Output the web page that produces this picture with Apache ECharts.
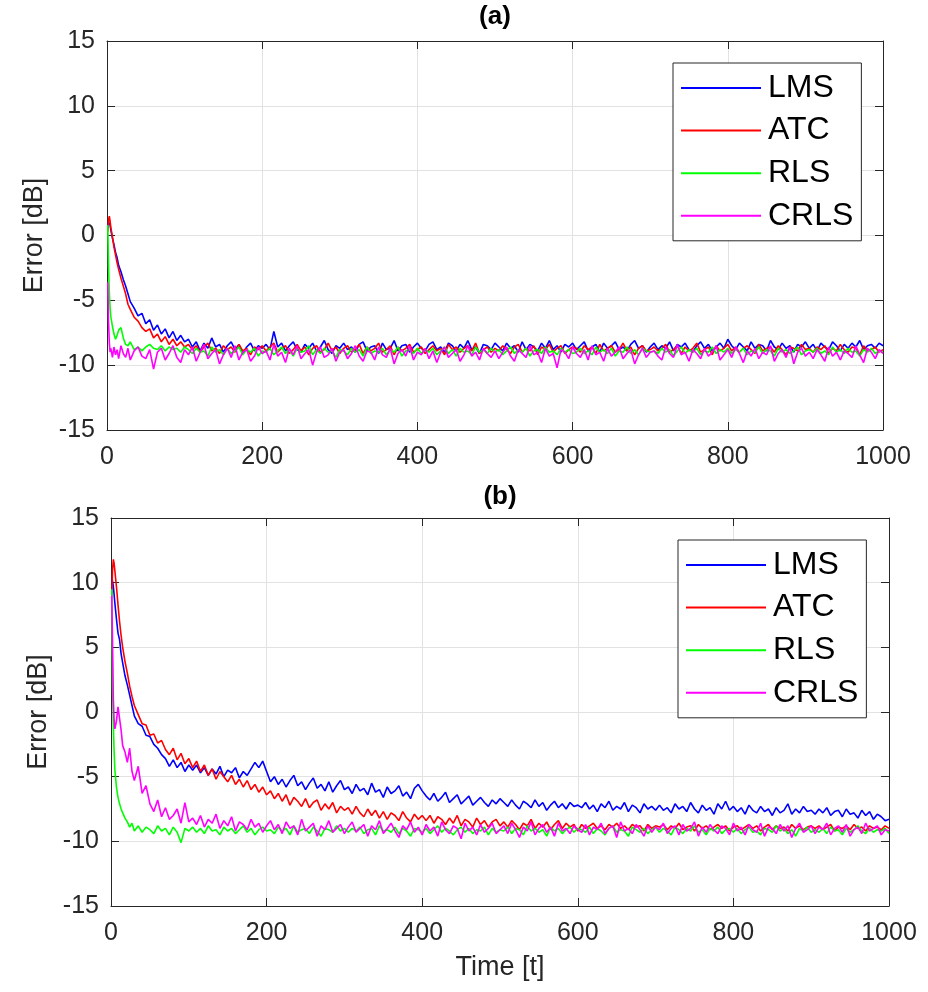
<!DOCTYPE html>
<html>
<head>
<meta charset="utf-8">
<script src="https://cdn.jsdelivr.net/npm/echarts@6/dist/echarts.min.js"></script>
<style>
html,body{margin:0;padding:0;background:#fff;}
#chart{width:928px;height:992px;}
</style>
</head>
<body>
<div id="chart"></div>
<script>
// ---- time samples ----
const time = [1,2,3,4,5,7,9,11,13,15,18,21,24,27,30,
  35,40,45,50,55,60,65,70,75,80,85,90,95,100,
  105,110,115,120,125,130,135,140,145,150,155,160,165,170,175,180,185,190,195,200,
  205,210,215,220,225,230,235,240,245,250,255,260,265,270,275,280,285,290,295,300,
  305,310,315,320,325,330,335,340,345,350,355,360,365,370,375,380,385,390,395,400,
  405,410,415,420,425,430,435,440,445,450,455,460,465,470,475,480,485,490,495,500,
  505,510,515,520,525,530,535,540,545,550,555,560,565,570,575,580,585,590,595,600,
  605,610,615,620,625,630,635,640,645,650,655,660,665,670,675,680,685,690,695,700,
  705,710,715,720,725,730,735,740,745,750,755,760,765,770,775,780,785,790,795,800,
  805,810,815,820,825,830,835,840,845,850,855,860,865,870,875,880,885,890,895,900,
  905,910,915,920,925,930,935,940,945,950,955,960,965,970,975,980,985,990,995,1000];

const seriesNames = ['LMS','ATC','RLS','CRLS'];
const xTicks = [0,200,400,600,800,1000];
const yTicks = [-15,-10,-5,0,5,10,15];

// ---- panel (a) ----
const lmsA = [0.6,1.0,1.1,0.8,0.4,-0.2,-0.7,-1.3,-1.7,-2.3,-2.8,-3.4,-3.9,-4.5,-5.1,
  -5.6,-6.2,-6.0,-6.8,-6.5,-7.3,-6.9,-7.6,-7.2,-7.9,-7.4,-8.1,-7.7,-8.2,
  -8.0,-8.6,-8.2,-8.9,-8.3,-8.7,-7.9,-8.6,-8.4,-9.0,-8.5,-8.2,-8.8,-8.4,-9.1,-8.6,-8.3,-8.9,-8.5,-8.7,
  -8.4,-8.8,-7.4,-8.6,-8.3,-8.9,-8.5,-8.2,-8.8,-9.0,-8.4,-8.7,-8.3,-8.9,-8.6,-8.1,-8.8,-9.1,-8.5,-8.7,
  -8.3,-8.8,-8.6,-9.0,-8.4,-8.2,-8.9,-8.6,-8.5,-9.1,-8.3,-8.8,-8.7,-8.1,-8.9,-8.5,-8.4,-9.0,-8.6,-8.3,
  -8.7,-8.9,-8.4,-8.2,-8.8,-8.6,-9.0,-8.3,-8.5,-8.9,-8.4,-8.7,-8.1,-8.8,-8.6,-9.1,-8.4,-8.5,-8.8,-8.3,
  -8.6,-8.9,-8.3,-8.7,-8.5,-9.0,-8.2,-8.8,-8.4,-8.6,-8.9,-8.3,-8.7,-8.1,-8.8,-8.5,-9.0,-8.4,-8.6,-8.3,
  -8.8,-8.5,-8.2,-8.9,-8.6,-8.4,-9.0,-8.3,-8.7,-8.5,-8.2,-8.8,-8.6,-8.9,-8.4,-8.1,-8.7,-8.5,-9.0,-8.6,
  -8.3,-8.8,-8.5,-8.7,-8.2,-8.9,-8.4,-8.6,-8.3,-8.8,-9.0,-8.5,-8.2,-8.7,-8.4,-8.9,-8.6,-8.3,-8.7,-8.0,
  -8.5,-8.8,-8.3,-8.6,-8.9,-8.2,-8.7,-8.4,-8.5,-8.9,-8.1,-8.6,-8.8,-8.3,-8.7,-8.5,-9.0,-8.4,-8.6,-8.2,
  -8.7,-8.4,-8.9,-8.3,-8.6,-8.8,-8.2,-8.5,-8.9,-8.4,-8.7,-8.3,-8.6,-8.1,-8.8,-8.5,-8.4,-8.7,-8.3,-8.5];

const atcA = [0.3,1.2,1.5,1.1,0.6,-0.1,-0.9,-1.5,-2.1,-2.6,-3.3,-3.9,-4.5,-5.3,-5.7,
  -6.3,-6.6,-7.1,-7.4,-7.2,-7.9,-7.6,-8.2,-7.8,-8.4,-8.0,-8.5,-8.2,-8.6,
  -8.4,-8.8,-8.5,-9.0,-8.6,-8.3,-8.9,-8.7,-9.1,-8.5,-8.8,-8.6,-9.0,-8.4,-8.9,-8.7,-9.2,-8.6,-8.8,-8.5,
  -8.9,-8.6,-8.3,-9.0,-8.7,-8.5,-9.1,-8.8,-8.4,-8.9,-8.6,-9.2,-8.7,-8.5,-9.0,-8.8,-8.3,-8.9,-8.6,-9.1,
  -8.7,-8.5,-9.0,-8.8,-8.4,-9.1,-8.6,-8.9,-8.7,-8.3,-9.0,-8.8,-8.5,-9.2,-8.6,-8.9,-8.7,-8.4,-9.0,-8.8,
  -8.6,-9.1,-8.8,-8.5,-8.9,-8.7,-9.2,-8.4,-8.8,-8.6,-9.0,-8.7,-8.5,-8.9,-8.3,-9.1,-8.8,-8.6,-9.0,-8.7,
  -8.9,-8.5,-8.8,-9.1,-8.6,-8.4,-9.0,-8.7,-8.9,-8.5,-9.2,-8.6,-8.8,-8.4,-9.0,-8.7,-8.5,-9.1,-8.8,-8.6,
  -8.7,-9.0,-8.5,-8.8,-8.6,-9.1,-8.4,-8.9,-8.7,-8.5,-9.0,-8.8,-8.3,-8.9,-8.6,-9.2,-8.7,-8.5,-8.9,-8.8,
  -8.6,-8.9,-8.7,-8.4,-9.0,-8.8,-8.5,-9.1,-8.6,-8.9,-8.7,-8.3,-9.0,-8.8,-8.6,-9.2,-8.5,-8.9,-8.7,-8.4,
  -8.9,-8.6,-9.0,-8.7,-8.5,-8.8,-9.1,-8.4,-8.9,-8.7,-8.6,-9.0,-8.5,-8.8,-9.2,-8.6,-8.7,-8.9,-8.4,-8.8,
  -8.7,-9.0,-8.6,-8.8,-8.5,-9.1,-8.7,-8.9,-8.4,-8.8,-9.0,-8.6,-8.7,-9.2,-8.5,-8.9,-8.8,-8.6,-9.0,-8.8];

const rlsA = [0.8,-2.4,-4.4,-5.6,-6.3,-7.0,-7.6,-8.0,-7.7,-7.3,-7.1,-7.9,-8.4,-8.5,-8.2,
  -8.8,-8.6,-8.9,-8.6,-8.4,-8.7,-8.8,-8.5,-8.9,-8.6,-8.8,-8.7,-9.0,-8.6,
  -8.8,-9.1,-8.7,-9.0,-8.9,-9.3,-8.6,-9.0,-8.8,-9.2,-8.7,-9.1,-8.9,-8.6,-9.2,-8.8,-9.0,-8.7,-9.3,-8.9,
  -9.0,-8.7,-9.2,-8.9,-8.6,-9.1,-8.8,-9.3,-8.7,-9.0,-8.9,-8.5,-9.2,-8.8,-9.1,-8.7,-9.0,-8.9,-9.4,-8.8,
  -8.9,-9.2,-8.7,-9.0,-8.8,-9.3,-8.6,-9.1,-8.9,-9.0,-8.7,-9.2,-8.8,-9.0,-8.6,-9.3,-8.9,-8.8,-9.1,-8.7,
  -9.1,-8.8,-9.0,-8.7,-9.2,-8.9,-8.6,-9.1,-8.8,-9.3,-8.7,-9.0,-8.9,-9.2,-8.6,-9.0,-8.8,-9.1,-8.7,-9.0,
  -8.8,-9.2,-8.9,-8.6,-9.1,-8.8,-9.0,-8.7,-9.3,-8.9,-8.8,-9.1,-8.6,-9.0,-8.9,-9.2,-8.7,-9.0,-8.8,-9.1,
  -9.0,-8.7,-9.1,-8.9,-9.2,-8.6,-9.0,-8.8,-9.1,-8.7,-9.3,-8.9,-9.0,-8.6,-9.1,-8.8,-9.2,-8.7,-8.9,-9.0,
  -8.9,-9.1,-8.7,-9.0,-8.8,-9.3,-8.9,-8.6,-9.1,-8.8,-9.0,-8.7,-9.2,-8.9,-9.0,-8.6,-9.1,-8.8,-9.0,-8.7,
  -9.1,-8.8,-9.0,-8.7,-9.2,-8.9,-9.0,-8.6,-9.1,-8.8,-8.9,-9.3,-8.7,-9.0,-8.8,-9.1,-8.9,-8.6,-9.2,-8.9,
  -8.8,-9.0,-8.7,-9.1,-8.9,-9.2,-8.6,-9.0,-8.8,-9.1,-8.7,-9.0,-8.9,-9.3,-8.8,-9.0,-8.7,-9.1,-8.9,-9.0];

const crlsA = [-3.6,-6.6,-8.3,-9.0,-8.7,-9.4,-8.6,-9.2,-8.8,-9.5,-8.5,-9.1,-9.4,-8.7,-9.6,
  -8.9,-8.6,-9.3,-9.5,-8.8,-10.3,-9.0,-8.7,-9.6,-9.1,-8.5,-9.4,-9.8,-8.8,
  -9.2,-8.6,-9.7,-9.0,-8.4,-9.5,-9.1,-8.8,-9.9,-9.2,-8.7,-9.4,-8.5,-9.6,-9.0,-8.8,-9.7,-9.3,-8.6,-9.1,
  -8.9,-9.6,-8.4,-9.3,-9.0,-9.8,-8.7,-9.2,-8.5,-9.5,-9.1,-8.8,-10.0,-9.0,-8.6,-9.4,-9.2,-8.7,-9.7,-9.0,
  -8.8,-9.5,-9.1,-8.5,-9.3,-9.7,-8.9,-9.0,-9.6,-8.6,-9.2,-9.4,-8.7,-9.9,-9.1,-8.8,-9.3,-8.5,-9.6,-9.0,
  -9.2,-8.7,-9.5,-8.9,-9.8,-9.0,-8.6,-9.4,-9.1,-8.8,-9.7,-9.2,-8.5,-9.3,-9.0,-9.6,-8.7,-9.1,-9.4,-8.9,
  -9.5,-9.0,-8.6,-9.3,-9.7,-8.8,-9.1,-9.4,-8.5,-9.2,-9.0,-9.8,-8.7,-9.3,-9.1,-10.2,-8.8,-9.0,-9.5,-8.6,
  -9.1,-9.4,-8.8,-9.6,-8.5,-9.2,-9.0,-9.7,-8.7,-9.3,-9.0,-8.6,-9.5,-9.1,-8.8,-9.9,-9.2,-8.7,-9.4,-9.0,
  -8.9,-9.3,-9.6,-8.6,-9.1,-9.4,-8.4,-9.2,-9.0,-9.7,-8.8,-9.1,-9.5,-8.7,-9.3,-9.0,-8.5,-9.6,-9.2,-8.8,
  -9.4,-8.6,-9.1,-9.8,-8.9,-9.3,-8.7,-9.5,-9.0,-9.2,-8.5,-9.7,-9.1,-8.8,-9.4,-8.6,-9.9,-9.0,-8.7,-9.3,
  -9.0,-9.5,-8.8,-9.2,-9.7,-8.6,-9.3,-9.0,-9.6,-8.9,-9.1,-9.4,-8.5,-9.2,-9.8,-8.7,-9.0,-9.5,-8.8,-9.1];

// ---- panel (b) ----
const lmsB = [10.4,10.1,9.7,9.1,8.4,7.2,6.1,5.6,4.5,3.8,2.8,2.1,1.3,0.5,-0.3,
  -0.9,-1.1,-1.8,-1.9,-2.5,-2.8,-3.3,-3.6,-4.2,-3.7,-4.3,-3.9,-4.6,-4.1,
  -4.5,-4.1,-4.7,-4.3,-4.9,-4.4,-4.8,-4.2,-5.0,-4.5,-4.7,-4.3,-5.1,-4.6,-4.9,-4.4,-3.9,-4.3,-3.8,-4.6,
  -5.4,-5.0,-5.6,-5.2,-5.8,-5.3,-4.9,-5.7,-5.4,-6.0,-5.5,-5.1,-5.9,-5.6,-6.1,-5.4,-6.2,-5.7,-5.3,-6.0,
  -5.8,-6.3,-5.6,-6.1,-5.9,-6.4,-5.5,-6.2,-6.0,-6.6,-5.8,-6.3,-6.1,-5.7,-6.5,-6.2,-6.7,-5.9,-5.6,-6.1,
  -6.5,-6.8,-6.3,-6.9,-6.6,-6.2,-7.0,-6.7,-6.4,-7.1,-6.8,-6.5,-7.2,-6.9,-6.6,-7.0,-7.3,-6.8,-7.1,-6.7,
  -7.0,-7.3,-6.8,-7.2,-7.5,-6.9,-7.1,-7.4,-6.8,-7.3,-7.0,-7.6,-7.2,-6.9,-7.4,-7.1,-7.5,-7.0,-7.3,-7.2,
  -7.4,-7.0,-7.5,-7.2,-7.7,-7.1,-7.4,-6.9,-7.6,-7.3,-7.5,-7.0,-7.7,-7.2,-7.4,-7.8,-7.1,-7.5,-7.3,-7.6,
  -7.2,-7.6,-7.4,-7.8,-7.1,-7.5,-7.3,-7.7,-7.0,-7.5,-7.8,-7.2,-7.6,-7.4,-7.9,-7.1,-7.5,-6.9,-7.6,-7.3,
  -7.7,-7.4,-7.9,-7.2,-7.6,-7.8,-7.3,-7.7,-7.5,-8.0,-7.4,-7.8,-7.6,-7.1,-7.9,-7.5,-7.8,-7.3,-7.7,-7.6,
  -7.9,-7.5,-7.8,-7.4,-8.0,-7.7,-7.6,-8.1,-7.5,-7.9,-7.8,-8.2,-7.6,-8.0,-7.7,-8.3,-7.9,-8.1,-8.4,-8.3];

const atcB = [9.0,11.0,11.8,11.5,10.9,9.7,8.3,7.0,5.9,5.0,3.9,3.0,2.0,1.2,0.5,
  -0.2,-0.9,-1.0,-1.8,-1.7,-2.4,-2.2,-2.9,-3.3,-2.8,-3.7,-3.2,-4.0,-3.6,
  -4.3,-3.8,-4.6,-4.1,-4.9,-4.4,-5.2,-4.6,-5.0,-5.4,-4.9,-5.6,-5.2,-5.8,-5.3,-6.0,-5.6,-6.2,-5.8,-6.4,
  -6.1,-6.7,-6.3,-6.9,-6.4,-7.2,-6.6,-6.9,-7.3,-6.7,-7.4,-7.0,-6.8,-7.6,-7.1,-7.5,-7.0,-7.8,-7.3,-7.6,
  -7.4,-7.9,-7.3,-7.8,-8.1,-7.5,-8.0,-7.6,-8.2,-7.7,-8.3,-7.8,-8.0,-8.4,-7.7,-8.2,-8.5,-7.9,-8.3,-8.0,
  -8.4,-8.0,-8.6,-8.1,-8.3,-8.7,-8.2,-8.6,-8.0,-8.8,-8.3,-8.5,-8.9,-8.2,-8.7,-8.4,-8.9,-8.5,-8.3,-8.8,
  -8.5,-8.9,-8.4,-8.7,-9.1,-8.6,-8.8,-8.3,-9.0,-8.6,-8.9,-8.5,-9.1,-8.7,-8.4,-9.0,-8.6,-8.9,-8.7,-9.2,
  -8.7,-9.0,-8.8,-8.6,-9.0,-8.8,-9.1,-8.7,-8.9,-8.6,-9.0,-8.8,-9.1,-8.7,-8.9,-8.8,-9.2,-8.7,-9.0,-8.8,
  -8.9,-8.7,-9.1,-8.8,-9.0,-8.6,-9.1,-8.9,-8.8,-9.2,-8.7,-9.0,-8.8,-9.1,-8.9,-8.7,-9.0,-8.8,-9.2,-8.9,
  -8.8,-9.1,-8.9,-8.7,-9.0,-8.8,-9.2,-8.9,-8.7,-9.1,-8.8,-9.0,-8.9,-9.2,-8.7,-9.0,-8.8,-9.1,-8.9,-8.8,
  -9.0,-8.8,-9.1,-8.9,-8.7,-9.2,-8.9,-9.0,-8.8,-9.1,-8.7,-9.0,-8.9,-9.2,-8.8,-9.0,-8.9,-9.1,-8.8,-9.0];

const rlsB = [9.5,2.0,-1.0,-3.0,-4.5,-5.8,-6.6,-7.1,-7.5,-7.8,-8.2,-8.5,-8.9,-8.6,-9.2,
  -8.8,-9.3,-8.9,-9.1,-9.4,-8.8,-9.2,-9.0,-9.5,-8.9,-9.3,-10.1,-9.0,-9.2,
  -8.9,-9.3,-9.0,-9.4,-8.8,-9.2,-9.1,-9.5,-8.9,-9.2,-9.0,-9.4,-9.1,-8.8,-9.3,-9.0,-9.5,-9.1,-8.9,-9.2,
  -9.1,-9.4,-8.9,-9.2,-9.0,-9.5,-8.8,-9.3,-9.1,-9.0,-9.4,-8.9,-9.2,-9.6,-9.0,-9.1,-9.3,-8.8,-9.2,-9.0,
  -9.3,-9.0,-9.2,-8.9,-9.4,-9.1,-9.0,-9.5,-8.8,-9.2,-9.1,-9.3,-8.9,-9.4,-9.0,-9.2,-9.6,-9.0,-9.1,-9.3,
  -9.0,-9.4,-9.1,-8.8,-9.3,-9.0,-9.2,-9.5,-9.1,-8.9,-9.3,-9.0,-9.4,-9.1,-9.2,-8.9,-9.5,-9.0,-9.3,-9.1,
  -9.2,-8.9,-9.4,-9.0,-9.1,-9.5,-8.8,-9.2,-9.0,-9.3,-9.1,-9.6,-8.9,-9.2,-9.0,-9.4,-9.1,-8.9,-9.3,-9.0,
  -9.1,-9.3,-8.9,-9.4,-9.0,-9.2,-9.5,-9.0,-8.8,-9.3,-9.1,-9.2,-9.6,-8.9,-9.1,-9.3,-9.0,-9.4,-9.1,-8.9,
  -9.3,-9.0,-9.2,-9.5,-8.9,-9.1,-9.4,-9.0,-9.2,-8.8,-9.3,-9.1,-9.5,-9.0,-9.2,-8.9,-9.4,-9.1,-9.0,-9.3,
  -9.0,-9.4,-9.1,-8.9,-9.3,-9.2,-9.5,-9.0,-9.1,-9.3,-8.8,-9.2,-9.0,-9.4,-9.1,-9.6,-9.0,-9.2,-8.9,-9.3,
  -9.1,-9.3,-9.0,-9.4,-8.9,-9.2,-9.1,-9.5,-9.0,-9.3,-9.1,-8.8,-9.2,-9.4,-9.0,-9.3,-9.1,-9.2,-9.0,-9.4];

const crlsB = [9.0,5.2,1.0,-0.6,-1.3,-0.7,0.4,0.5,-1.4,-2.6,-3.1,-3.9,-2.8,-4.6,-5.3,
  -4.2,-6.3,-5.7,-7.1,-7.7,-6.8,-8.1,-7.4,-8.3,-8.0,-7.5,-8.6,-7.0,-8.5,
  -8.2,-8.7,-8.0,-8.9,-8.3,-8.6,-7.9,-9.0,-8.4,-8.8,-8.1,-9.2,-8.5,-8.7,-9.1,-8.3,-8.9,-8.6,-9.3,-8.8,
  -8.4,-9.1,-8.7,-9.4,-8.5,-9.0,-8.8,-9.5,-8.3,-9.2,-8.9,-8.6,-9.6,-8.8,-9.1,-8.4,-9.3,-9.0,-8.7,-9.4,
  -8.9,-8.5,-9.3,-9.0,-8.7,-9.6,-8.8,-9.1,-8.4,-9.4,-9.0,-8.6,-9.2,-9.7,-8.8,-9.1,-8.5,-9.3,-8.9,-9.5,
  -8.7,-9.2,-8.9,-9.6,-8.5,-9.1,-9.4,-8.8,-9.0,-9.8,-8.6,-9.2,-8.9,-9.5,-8.7,-9.3,-9.0,-8.6,-9.4,-9.1,
  -8.8,-9.4,-8.6,-9.1,-9.7,-8.9,-9.2,-8.5,-9.5,-9.0,-8.7,-9.3,-8.9,-9.6,-8.6,-9.2,-9.0,-9.4,-8.8,-9.1,
  -9.3,-8.7,-9.5,-8.9,-9.1,-8.6,-9.4,-9.0,-8.8,-9.7,-8.5,-9.2,-9.0,-9.4,-8.7,-9.1,-9.6,-8.8,-9.3,-8.9,
  -9.1,-8.6,-9.4,-9.0,-8.8,-9.5,-8.7,-9.2,-9.0,-8.5,-9.6,-8.9,-9.3,-8.7,-9.1,-9.4,-8.8,-9.0,-9.5,-8.6,
  -9.2,-8.9,-9.5,-8.7,-9.1,-9.3,-8.6,-9.6,-8.9,-9.0,-9.4,-8.7,-9.2,-8.8,-9.7,-9.0,-8.6,-9.3,-9.1,-8.8,
  -9.4,-8.9,-9.1,-8.6,-9.5,-9.0,-8.8,-9.3,-8.7,-9.6,-9.1,-8.9,-9.4,-8.6,-9.2,-9.0,-8.8,-9.5,-9.1,-9.2];

const colors = ['#0000ff','#ff0000','#00ff00','#ff00ff'];
const panelA = [lmsA, atcA, rlsA, crlsA];
const panelB = [lmsB, atcB, rlsB, crlsB];

[...panelA, ...panelB].forEach((arr, k) => {
  if (arr.length !== time.length) throw new Error('length mismatch in series ' + k + ': ' + arr.length + ' vs ' + time.length);
});

const FONT = 'Liberation Sans';
const AX = '#262626';
const GRIDC = '#e2e2e2';

function bottomX(gi, withName) {
  return {
    type: 'value', gridIndex: gi, position: 'bottom', min: xTicks[0], max: xTicks[xTicks.length-1], interval: 200,
    axisLine: {show: true, onZero: false, lineStyle: {color: AX, width: 1}},
    axisTick: {show: true, inside: true, length: 8, lineStyle: {color: AX}},
    axisLabel: {show: true, margin: 15, fontSize: 25, fontFamily: FONT, color: AX, formatter: v => String(v)},
    splitLine: {show: true, lineStyle: {color: GRIDC, width: 1}},
    name: withName ? 'Time [t]' : '', nameLocation: 'middle', nameGap: 48,
    nameTextStyle: {fontSize: 27, fontFamily: FONT, color: AX}
  };
}
function topX(gi) {
  return {
    type: 'value', gridIndex: gi, position: 'top', min: xTicks[0], max: xTicks[xTicks.length-1], interval: 200,
    axisLine: {show: true, onZero: false, lineStyle: {color: AX, width: 1}},
    axisTick: {show: true, inside: true, length: 8, lineStyle: {color: AX}},
    axisLabel: {show: false}, splitLine: {show: false}
  };
}
function leftY(gi) {
  return {
    type: 'value', gridIndex: gi, position: 'left', min: yTicks[0], max: yTicks[yTicks.length-1], interval: 5,
    axisLine: {show: true, onZero: false, lineStyle: {color: AX, width: 1}},
    axisTick: {show: true, inside: true, length: 8, lineStyle: {color: AX}},
    axisLabel: {show: true, margin: 12, fontSize: 25, fontFamily: FONT, color: AX, formatter: v => String(v)},
    splitLine: {show: true, lineStyle: {color: GRIDC, width: 1}},
    name: 'Error [dB]', nameLocation: 'middle', nameGap: 58,
    nameTextStyle: {fontSize: 27, fontFamily: FONT, color: AX}
  };
}
function rightY(gi) {
  return {
    type: 'value', gridIndex: gi, position: 'right', min: yTicks[0], max: yTicks[yTicks.length-1], interval: 5,
    axisLine: {show: true, onZero: false, lineStyle: {color: AX, width: 1}},
    axisTick: {show: true, inside: true, length: 8, lineStyle: {color: AX}},
    axisLabel: {show: false}, splitLine: {show: false}
  };
}

function makeSeries(panel, gi) {
  return panel.map((arr, k) => ({
    type: 'line', name: seriesNames[k],
    xAxisIndex: gi * 2, yAxisIndex: gi * 2,
    data: time.map((t, i) => [t, arr[i]]),
    showSymbol: false, symbol: 'none',
    lineStyle: {color: colors[k], width: 1.6},
    itemStyle: {color: colors[k]},
    animation: false
  }));
}

function legendAt(left, top) {
  return {
    orient: 'vertical', left: left, top: top,
    data: seriesNames,
    icon: 'rect', itemWidth: 80, itemHeight: 2, itemGap: 10.6,
    padding: [9, 8, 9, 8],
    borderColor: AX, borderWidth: 1, backgroundColor: '#fff',
    textStyle: {fontSize: 32, fontFamily: FONT, color: '#000', lineHeight: 32, padding: [0, 0, 0, 2]},
    selectedMode: false
  };
}

const chart = echarts.init(document.getElementById('chart'), null, {renderer: 'canvas'});
chart.setOption({
  animation: false,
  backgroundColor: '#fff',
  title: [
    {text: '(a)', left: 495, top: 4, textAlign: 'center', padding: 0,
     textStyle: {fontSize: 26, fontWeight: 'bold', fontFamily: FONT, color: '#000'}},
    {text: '(b)', left: 500, top: 484, textAlign: 'center', padding: 0,
     textStyle: {fontSize: 26, fontWeight: 'bold', fontFamily: FONT, color: '#000'}}
  ],
  grid: [
    {left: 107, top: 41, width: 776, height: 389, containLabel: false},
    {left: 111, top: 518, width: 778, height: 388, containLabel: false}
  ],
  xAxis: [bottomX(0, false), topX(0), bottomX(1, true), topX(1)],
  yAxis: [leftY(0), rightY(0), leftY(1), rightY(1)],
  legend: [legendAt(673, 63), legendAt(678, 540)],
  series: [...makeSeries(panelA, 0), ...makeSeries(panelB, 1)]
});
</script>
</body>
</html>
